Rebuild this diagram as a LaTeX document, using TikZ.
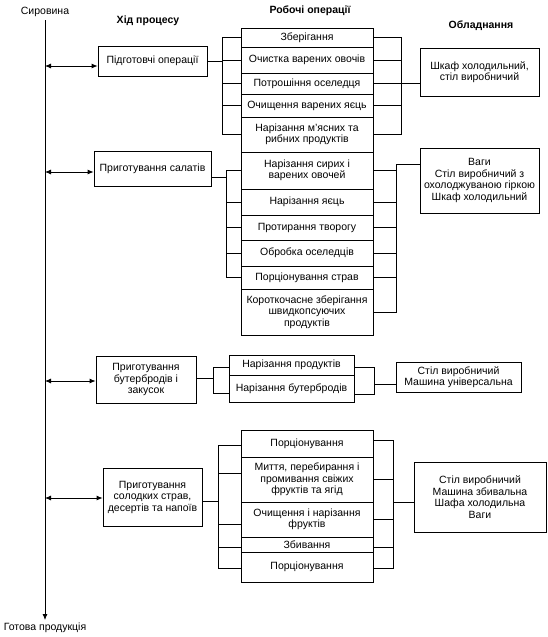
\documentclass[tikz,border=0pt]{standalone}
\usepackage{fontspec}
\setmainfont{Liberation Sans}
\usetikzlibrary{arrows.meta}
\begin{document}
\begin{tikzpicture}[x=1pt,y=-1pt,line width=0.8pt,
  >={Latex[length=6pt,width=5pt]},
  every node/.style={font=\fontsize{10.5}{11.5}\selectfont,inner sep=0pt,align=center},
  titl/.style={font=\fontsize{10.5}{11.5}\selectfont\bfseries},
  op/.style={draw,minimum width=132pt},
  opn/.style={draw,minimum width=125pt},
  boxx/.style={draw}]
\useasboundingbox (0,0) rectangle (548,637);

% labels and titles
\node (syr) at (45,11.5) {Сировина};
\node (got) at (45,628) {Готова продукція};
\node[titl] (t1) at (148,21) {Хід процесу};
\node[titl] (t2) at (310,11) {Робочі операції};
\node[titl] (t3) at (481,26) {Обладнання};

% main line
\coordinate (mtop) at (45,20);
\coordinate (mbot) at (45,620);
\draw[->] (mtop) -- (mbot);

% process boxes
\node[boxx,minimum width=109pt,minimum height=30pt] (p1) at (152.5,61) {Підготовчі операції};
\node[boxx,minimum width=117pt,minimum height=35pt] (p2) at (152.5,168.5) {Приготування салатів};
\node[boxx,minimum width=100pt,minimum height=47pt] (p3) at (146,379.5) {Приготування\\бутербродів і\\закусок};
\node[boxx,minimum width=99pt,minimum height=58pt] (p4) at (152.5,497) {Приготування\\солодких страв,\\десертів та напоїв};

% arrows
\coordinate (m1) at (45,66);
\coordinate (m2) at (45,172);
\coordinate (m3) at (45,381);
\coordinate (m4) at (45,498);
\draw[<->] (m1) -- (m1 -| p1.west);
\draw[<->] (m2) -- (m2 -| p2.west);
\draw[<->] (m3) -- (m3 -| p3.west);
\draw[<->] (m4) -- (m4 -| p4.west);

% operations group 1
\node[op,minimum height=19pt] (o11) at (307,37.5) {Зберігання};
\node[op,minimum height=26pt] (o12) at (307,60) {Очистка варених овочів};
\node[op,minimum height=21pt] (o13) at (307,83.5) {Потрошіння оселедця};
\node[op,minimum height=23pt] (o14) at (307,105.5) {Очищення варених яєць};
\node[op,minimum height=35pt] (o15) at (307,134.5) {Нарізання м’ясних та\\рибних продуктів};
% operations group 2
\node[op,minimum height=37pt] (o21) at (307,170.5) {Нарізання сирих і\\варених овочей};
\node[op,minimum height=26pt] (o22) at (307,202) {Нарізання яєць};
\node[op,minimum height=25pt] (o23) at (307,227.5) {Протирання творогу};
\node[op,minimum height=26pt] (o24) at (307,253) {Обробка оселедців};
\node[op,minimum height=23pt] (o25) at (307,277.5) {Порціонування страв};
\node[op,minimum height=46pt] (o26) at (307,312) {Короткочасне зберігання\\швидкопсуючих\\продуктів};
% operations group 3
\node[opn,minimum height=20pt] (o31) at (291.5,365) {Нарізання продуктів};
\node[opn,minimum height=27pt] (o32) at (291.5,388.5) {Нарізання бутербродів};
% operations group 4
\node[op,minimum height=27pt] (o41) at (307,443.5) {Порціонування};
\node[op,minimum height=45pt] (o42) at (307,479.5) {Миття, перебирання і\\промивання свіжих\\фруктів та ягід};
\node[op,minimum height=35pt] (o43) at (307,519.5) {Очищення і нарізання\\фруктів};
\node[op,minimum height=15pt] (o44) at (307,544.5) {Збивання};
\node[op,minimum height=30pt] (o45) at (307,567) {Порціонування};

% equipment
\node[boxx,minimum width=119pt,minimum height=48pt] (e1) at (479.5,72) {Шкаф холодильний,\\стіл виробничий};
\node[boxx,minimum width=119pt,minimum height=65pt] (e2) at (479.5,180.5) {Ваги\\Стіл виробничий з\\охолоджуваною гіркою\\Шкаф холодильний};
\node[boxx,minimum width=125pt,minimum height=30pt] (e3) at (458.5,377) {Стіл виробничий\\Машина універсальна};
\node[boxx,minimum width=132pt,minimum height=70pt] (e4) at (480,497) {Стіл виробничий\\Машина збивальна\\Шафа холодильна\\Ваги};

% bracket spines
\coordinate (bl1) at (222,0);
\coordinate (br1) at (401,0);
\coordinate (bl2) at (226,0);
\coordinate (br2) at (396,0);
\coordinate (t2top) at (396,164);
\coordinate (bl3) at (213,0);
\coordinate (br3) at (374,0);
\coordinate (bl4) at (218,0);
\coordinate (br4) at (393,0);

% group 1
\draw (p1.east) -- (p1.east -| bl1);
\draw (o11.west) -| (bl1 |- o15.west) -- (o15.west);
\foreach \n in {o12,o13,o14} \draw (\n.west) -- (\n.west -| bl1);
\draw (o11.east) -| (br1 |- o15.east) -- (o15.east);
\foreach \n in {o12,o13,o14} \draw (\n.east) -- (\n.east -| br1);
\draw (o13.east -| br1) -- (o13.east -| e1.west);

% group 2
\draw ([yshift=-8.5pt]p2.east) -- ([yshift=-8.5pt]p2.east -| bl2);
\draw (o21.west) -| (bl2 |- o25.west) -- (o25.west);
\foreach \n in {o22,o23,o24} \draw (\n.west) -- (\n.west -| bl2);
\draw (o26.east) -| (t2top) -- (t2top -| e2.west);
\foreach \n in {o21,o22,o23,o24,o25} \draw (\n.east) -- (\n.east -| br2);

% group 3
\coordinate (q31l) at ([yshift=-2pt]o31.west);
\coordinate (q32l) at ([yshift=-5pt]o32.west);
\coordinate (q31r) at ([yshift=-2pt]o31.east);
\coordinate (q32r) at ([yshift=-6pt]o32.east);
\coordinate (q3e) at ([yshift=-7pt]e3.west);
\draw ([yshift=1.5pt]p3.east) -- ([yshift=1.5pt]p3.east -| bl3);
\draw (q31l) -| (bl3 |- q32l) -- (q32l);
\draw (q31r) -| (br3 |- q32r) -- (q32r);
\draw (q3e -| br3) -- (q3e);

% group 4
\coordinate (q41l) at ([yshift=-1.5pt]o41.west);
\coordinate (q42l) at ([yshift=6.5pt]o42.west);
\coordinate (q43l) at ([yshift=-4.5pt]o43.west);
\coordinate (q44l) at ([yshift=-2.5pt]o44.west);
\coordinate (q45l) at ([yshift=-1pt]o45.west);
\coordinate (q41r) at ([yshift=3.5pt]o41.east);
\coordinate (q44r) at ([yshift=-2.5pt]o44.east);
\coordinate (q45r) at ([yshift=-1pt]o45.east);
\coordinate (q4e) at ([yshift=-5pt]e4.west);
\draw ([yshift=-4pt]p4.east) -- ([yshift=-4pt]p4.east -| bl4);
\draw (q41l) -| (bl4 |- q45l) -- (q45l);
\foreach \n in {q42l,q43l,q44l} \draw (\n) -- (\n -| bl4);
\draw (q41r) -| (br4 |- q45r) -- (q45r);
\foreach \n in {o42.east,o43.east,q44r} \draw (\n) -- (\n -| br4);
\draw (q4e -| br4) -- (q4e);
\end{tikzpicture}
\end{document}
